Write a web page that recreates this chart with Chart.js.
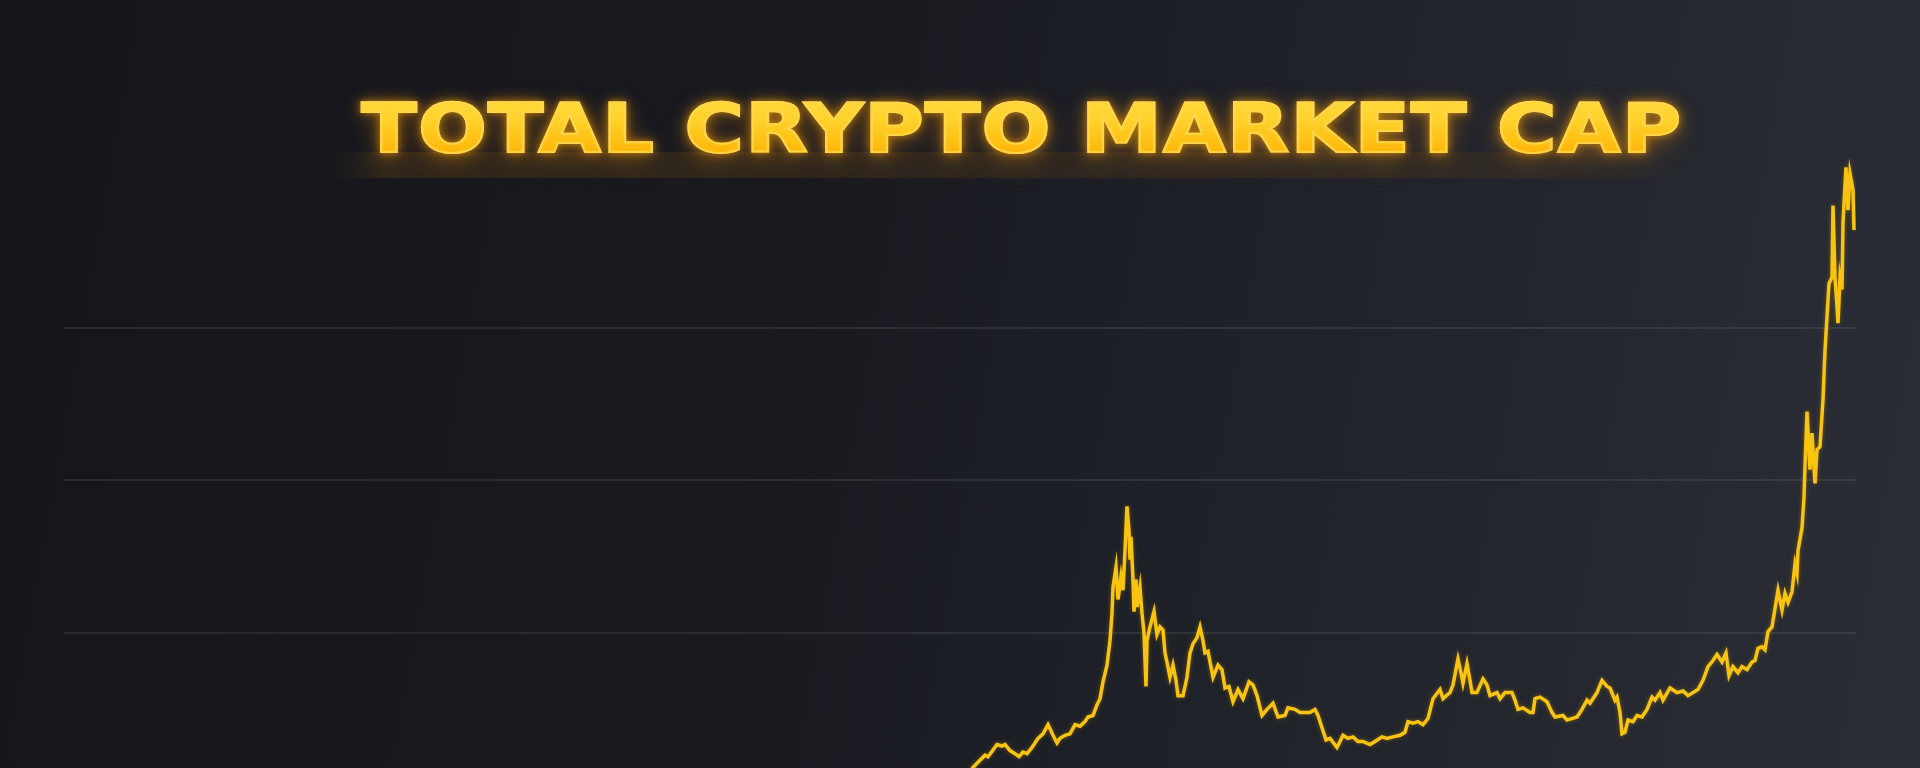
<!DOCTYPE html>
<html>
<head>
<meta charset="utf-8">
<title>Total Crypto Market Cap</title>
<script src="https://cdn.jsdelivr.net/npm/chart.js@4.4.1/dist/chart.umd.min.js"></script>
<style>
  html, body {
    margin: 0;
    padding: 0;
    width: 1920px;
    height: 768px;
    overflow: hidden;
  }
  body {
    position: relative;
    background: linear-gradient(100deg, #14161b 0%, #181a20 40%, #22252c 75%, #2b2e36 100%);
  }
  #capChart {
    position: absolute;
    left: 0;
    top: 0;
  }
  .title {
    position: absolute;
    left: 0;
    width: 2044px;
    top: 81px;
    text-align: center;
    font-family: "DejaVu Sans", sans-serif;
    font-weight: bold;
    font-size: 67px;
    line-height: 96px;
    white-space: nowrap;
  }
  .title span {
    display: inline-block;
    letter-spacing: 1px;
    transform: scaleX(1.21);
    transform-origin: center;
  }
  .title.glow span {
    color: #ffa400;
    -webkit-text-stroke: 2px #ffa400;
    text-shadow: 0 0 12px rgba(255, 165, 0, 0.8), 0 8px 24px rgba(255, 140, 0, 0.5);
    filter: blur(3px);
    opacity: 0.7;
  }
  .title.face span {
    background: linear-gradient(to bottom, #ffe04a 0%, #ffd22c 40%, #ffb405 78%, #ff9e00 100%);
    -webkit-background-clip: text;
    background-clip: text;
    color: transparent;
    -webkit-text-stroke: 2px rgba(255, 214, 80, 0.9);
  }
  .band {
    position: absolute;
    left: 330px;
    width: 1370px;
    top: 152px;
    height: 26px;
    background: linear-gradient(to right, rgba(80, 55, 20, 0), rgba(80, 58, 22, 0.4) 4%, rgba(70, 52, 24, 0.35) 85%, rgba(60, 48, 25, 0));
  }
</style>
</head>
<body>
<div class="band"></div>
<canvas id="capChart" width="1920" height="768"></canvas>
<div class="title glow"><span>TOTAL CRYPTO MARKET CAP</span></div>
<div class="title face"><span>TOTAL CRYPTO MARKET CAP</span></div>
<script>
// time index (weeks-ish)
const timeIdx = [
  896, 909, 921, 924, 933, 938, 941, 946, 951, 955, 959, 963, 968, 974, 979, 984, 987, 989,
  993, 996, 1001, 1006, 1011, 1016, 1021, 1024, 1029, 1033, 1036, 1039, 1043, 1046, 1048, 1049,
  1052, 1054, 1057, 1059, 1061, 1063, 1065, 1066, 1067, 1069, 1070, 1072, 1073, 1076, 1078, 1080,
  1082, 1083, 1086, 1090, 1093, 1096, 1099, 1101, 1103, 1106, 1109, 1112, 1114, 1119, 1123, 1126,
  1129, 1133, 1136, 1139, 1141, 1144, 1149, 1154, 1158, 1161, 1165, 1169, 1174, 1179, 1185, 1189,
  1193, 1198, 1203, 1209, 1214, 1221, 1224, 1231, 1236, 1239, 1246, 1251, 1254, 1258, 1262, 1266,
  1273, 1276, 1279, 1284, 1289, 1294, 1299, 1306, 1311, 1318, 1323, 1329, 1336, 1341, 1344, 1349,
  1354, 1359, 1364, 1369, 1376, 1379, 1386, 1389, 1394, 1397, 1399, 1403, 1406, 1408, 1413, 1419,
  1423, 1426, 1433, 1436, 1441, 1448, 1451, 1454, 1459, 1466, 1469, 1471, 1476, 1483, 1488, 1491,
  1499, 1503, 1513, 1518, 1523, 1526, 1533, 1538, 1543, 1546, 1551, 1553, 1556, 1558, 1561, 1564,
  1569, 1573, 1578, 1583, 1588, 1591, 1596, 1599, 1606, 1613, 1619, 1624, 1634, 1639, 1644, 1649,
  1653, 1658, 1662, 1665, 1669, 1674, 1678, 1683, 1688, 1691, 1694, 1698, 1701, 1704, 1708, 1711,
  1714, 1718, 1721, 1724, 1728, 1731, 1733, 1734, 1738, 1740, 1741, 1743, 1746, 1748, 1751, 1753,
  1756, 1759, 1761, 1763, 1765, 1768, 1769, 1771, 1773, 1774, 1776, 1778, 1779, 1782, 1784, 1786,
  1789, 1790
];

// market cap, trillion USD (illustrative scale)
const capValue = [
  -0.03, 0.12, 0.20, 0.19, 0.27, 0.26, 0.27, 0.23, 0.21, 0.19, 0.22, 0.21, 0.25, 0.31, 0.34, 0.40, 0.36, 0.33,
  0.28, 0.31, 0.33, 0.34, 0.40, 0.39, 0.42, 0.45, 0.46, 0.53, 0.57, 0.68, 0.79, 0.95, 1.13, 1.30,
  1.43, 1.22, 1.37, 1.28, 1.54, 1.83, 1.67, 1.48, 1.63, 1.35, 1.14, 1.35, 1.17, 1.30, 1.13, 1.00,
  0.65, 0.95, 1.04, 1.14, 0.99, 1.04, 1.02, 0.87, 0.81, 0.71, 0.79, 0.69, 0.59, 0.59, 0.71, 0.87,
  0.93, 0.97, 1.04, 0.95, 0.87, 0.88, 0.71, 0.79, 0.76, 0.64, 0.65, 0.55, 0.63, 0.57, 0.68, 0.66,
  0.59, 0.46, 0.50, 0.54, 0.45, 0.46, 0.51, 0.50, 0.48, 0.48, 0.48, 0.50, 0.46, 0.38, 0.30, 0.31,
  0.25, 0.29, 0.33, 0.31, 0.32, 0.29, 0.29, 0.27, 0.29, 0.32, 0.31, 0.32, 0.33, 0.35, 0.42, 0.41,
  0.42, 0.40, 0.44, 0.57, 0.63, 0.57, 0.61, 0.66, 0.83, 0.74, 0.67, 0.80, 0.69, 0.61, 0.61, 0.70,
  0.66, 0.59, 0.61, 0.57, 0.61, 0.61, 0.56, 0.50, 0.51, 0.48, 0.48, 0.57, 0.58, 0.55, 0.48, 0.45,
  0.46, 0.43, 0.45, 0.50, 0.56, 0.54, 0.61, 0.69, 0.65, 0.64, 0.56, 0.58, 0.48, 0.34, 0.35, 0.43,
  0.42, 0.46, 0.45, 0.50, 0.58, 0.56, 0.61, 0.56, 0.64, 0.61, 0.62, 0.59, 0.63, 0.69, 0.78, 0.82,
  0.86, 0.81, 0.87, 0.72, 0.78, 0.74, 0.78, 0.76, 0.81, 0.82, 0.90, 0.91, 0.89, 1.01, 1.04, 1.16,
  1.28, 1.15, 1.26, 1.20, 1.27, 1.45, 1.39, 1.54, 1.69, 1.89, 2.09, 2.45, 2.07, 2.31, 1.98, 2.20,
  2.22, 2.53, 2.85, 3.07, 3.29, 3.33, 3.80, 3.33, 3.14, 3.03, 3.33, 3.25, 3.69, 4.05, 3.77, 4.01,
  3.90, 3.64
];

// horizontal guide levels
const gridLevels = [1, 2, 3];

const points = timeIdx.map((t, i) => ({ x: t, y: capValue[i] }));

// soft glow under the line
const lineGlow = {
  id: "lineGlow",
  beforeDatasetDraw(chart) {
    const ctx = chart.ctx;
    ctx.save();
    ctx.shadowColor = "rgba(255, 185, 0, 0.35)";
    ctx.shadowBlur = 4;
  },
  afterDatasetDraw(chart) {
    chart.ctx.restore();
  }
};

const ctx = document.getElementById("capChart").getContext("2d");
new Chart(ctx, {
  type: "line",
  data: {
    datasets: [{
      label: "Total Crypto Market Cap",
      data: points,
      borderColor: "#f9c40f",
      borderWidth: 3.5,
      pointRadius: 0,
      tension: 0,
      fill: false
    }]
  },
  options: {
    responsive: false,
    animation: false,
    layout: { padding: { left: 64, right: 64, top: 0, bottom: 0 } },
    plugins: {
      legend: { display: false },
      tooltip: { enabled: false },
      title: { display: false }
    },
    scales: {
      x: {
        type: "linear",
        display: false,
        min: 0,
        max: 1792
      },
      y: {
        type: "linear",
        min: 0.116,
        max: 5.146,
        afterBuildTicks: function (axis) {
          axis.ticks = gridLevels.map(v => ({ value: v }));
        },
        ticks: { display: false },
        border: { display: false },
        grid: {
          drawTicks: false,
          color: "rgba(255, 255, 255, 0.08)",
          lineWidth: 2
        }
      }
    }
  },
  plugins: [lineGlow]
});
</script>
</body>
</html>
